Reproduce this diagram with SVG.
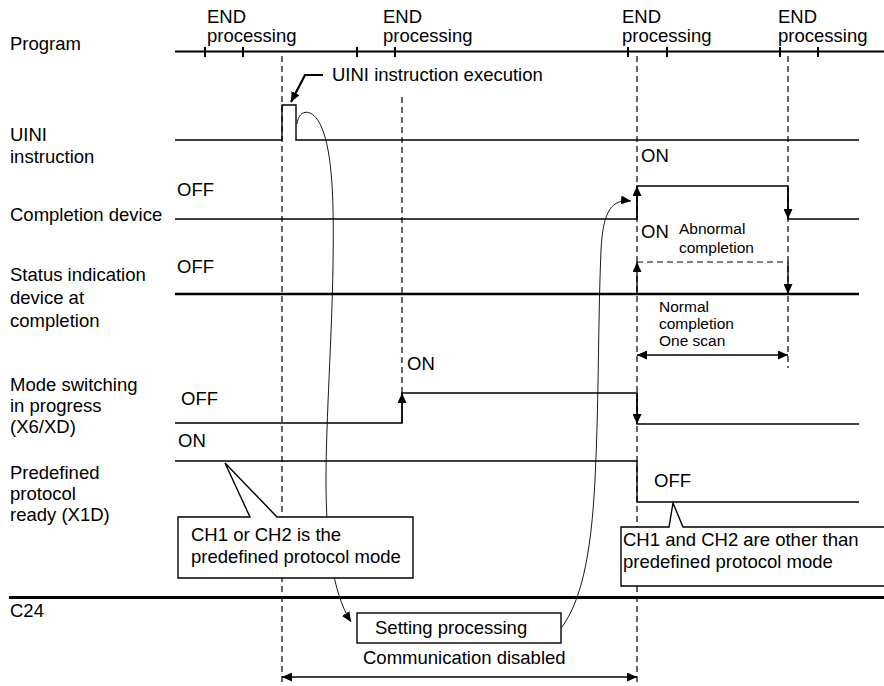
<svg xmlns="http://www.w3.org/2000/svg" width="884" height="686" viewBox="0 0 884 686">
<style>
text{font-family:"Liberation Sans",Arial,sans-serif;font-size:18.5px;fill:#000}
.sm{font-size:15.5px}
.w{fill:none;stroke:#000;stroke-width:1.4}
.thk{fill:none;stroke:#000;stroke-width:2.4}
.d{fill:none;stroke:#000;stroke-width:1.2;stroke-dasharray:6 4}
.c{fill:none;stroke:#000;stroke-width:0.9}
.box{fill:#fff;stroke:#000;stroke-width:1.4}
.a{fill:none;stroke:#000;stroke-width:1.4;marker-end:url(#ah)}
.da{fill:none;stroke:#000;stroke-width:1.4;marker-start:url(#ah);marker-end:url(#ah)}
</style>
<defs>
<marker id="ah" viewBox="0 0 10 9" refX="10" refY="4.5" markerWidth="10" markerHeight="9" markerUnits="userSpaceOnUse" orient="auto-start-reverse"><path d="M0,0 L10,4.5 L0,9 z" fill="#000"/></marker>
</defs>
<rect width="884" height="686" fill="#fff"/>

<g id="labels">
<text x="10" y="50">Program</text>
<text x="10" y="141">UINI</text>
<text x="10" y="163">instruction</text>
<text x="10" y="221">Completion device</text>
<text x="10" y="281">Status indication</text>
<text x="10" y="304">device at</text>
<text x="10" y="327">completion</text>
<text x="10" y="391">Mode switching</text>
<text x="10" y="412">in progress</text>
<text x="10" y="433">(X6/XD)</text>
<text x="10" y="479">Predefined</text>
<text x="10" y="500">protocol</text>
<text x="10" y="521">ready (X1D)</text>
<text x="10" y="617">C24</text>
</g>

<g id="guides">
<line class="d" x1="282" y1="56" x2="282" y2="686"/>
<line class="d" x1="402" y1="97" x2="402" y2="393"/>
<line class="d" x1="637" y1="56" x2="637" y2="686"/>
<line class="d" x1="788" y1="56" x2="788" y2="368"/>
</g>

<g id="program">
<line class="thk" x1="175" y1="51.5" x2="884" y2="51.5" style="stroke-width:2"/>
<path class="thk" style="stroke-width:2" d="M205,47V57M243,47V57M357,47V57M395,47V57M628,47V57M667,47V57M780,47V57M818,47V57"/>
<text x="207" y="23">END</text><text x="207" y="42">processing</text>
<text x="383" y="23">END</text><text x="383" y="42">processing</text>
<text x="622" y="23">END</text><text x="622" y="42">processing</text>
<text x="778" y="23">END</text><text x="778" y="42">processing</text>
</g>

<g id="uini">
<polyline class="w" points="175,140 282,140 282,105 296,105 296,140 859,140"/>
<polyline class="a" style="stroke-width:2.2" points="323,75 305,75 291,102"/>
<text x="332" y="81">UINI instruction execution</text>
<text x="641" y="162">ON</text>
</g>

<g id="completion">
<polyline class="w" points="175,219 637,219 637,186 788,186 788,219 859,219"/>
<line class="a" x1="637" y1="219" x2="637" y2="186"/>
<line class="a" x1="788" y1="186" x2="788" y2="219"/>
<text x="177" y="196">OFF</text>
</g>

<g id="status">
<line class="thk" x1="175" y1="294" x2="859" y2="294"/>
<line class="d" x1="637" y1="262" x2="788" y2="262"/>
<line class="a" x1="637" y1="294" x2="637" y2="262"/>
<line class="a" x1="788" y1="262" x2="788" y2="294"/>
<text x="177" y="273">OFF</text>
<text x="641" y="238">ON</text>
<text class="sm" x="679" y="234">Abnormal</text>
<text class="sm" x="679" y="253">completion</text>
<text class="sm" x="659" y="312">Normal</text>
<text class="sm" x="659" y="329">completion</text>
<text class="sm" x="659" y="346">One scan</text>
<line class="da" x1="637" y1="355" x2="788" y2="355"/>
</g>

<g id="mode">
<polyline class="w" points="175,423 402,423 402,393 637,393 637,424 859,424"/>
<line class="a" x1="402" y1="423" x2="402" y2="393"/>
<line class="a" x1="637" y1="393" x2="637" y2="424"/>
<text x="407" y="370">ON</text>
<text x="181" y="405">OFF</text>
</g>

<g id="predefined">
<polyline class="w" points="175,461 637,461 637,502 859,502"/>
<text x="178" y="447">ON</text>
<text x="654" y="487">OFF</text>
</g>

<g id="connectors">
<path class="c" d="M297,124 C299,108 313,108 321,126 C333,152 334,205 333,265 C332,335 326,420 326,480 C326,540 332,592 351,622" marker-end="url(#ah)"/>
<path class="c" d="M562,627 C580,602 591,560 595,480 C599,400 598,320 601,250 C603,210 612,199 631,201" marker-end="url(#ah)"/>
</g>

<g id="callout1">
<path class="box" d="M178,517 H250 L225,463 L277,517 H413 V578 H178 Z"/>
<text x="191" y="541">CH1 or CH2 is the</text>
<text x="191" y="563">predefined protocol mode</text>
</g>

<g id="callout2">
<path class="box" d="M621,527 H669 L673,503 L683,527 H892 V586 H621 Z"/>
<text x="623" y="546">CH1 and CH2 are other than</text>
<text x="623" y="568">predefined protocol mode</text>
</g>

<g id="c24">
<line class="thk" style="stroke-width:3" x1="9" y1="597.5" x2="884" y2="597.5"/>
</g>

<g id="setting">
<rect class="box" x="357" y="613" width="204" height="30"/>
<text x="375" y="634">Setting processing</text>
<text x="363" y="664">Communication disabled</text>
<line class="da" x1="282" y1="677" x2="637" y2="677"/>
</g>
</svg>
